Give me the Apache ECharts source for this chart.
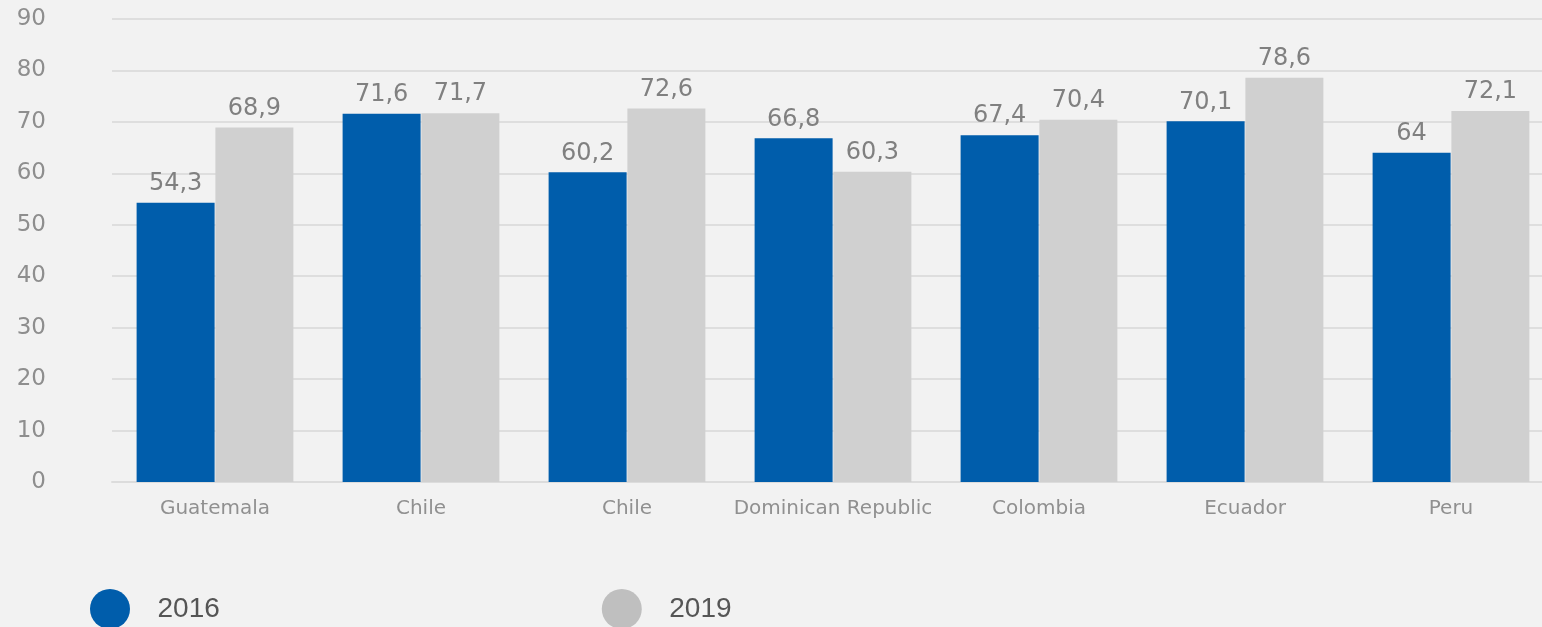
<!DOCTYPE html>
<html>
<head>
<meta charset="utf-8">
<script src="https://cdn.jsdelivr.net/npm/echarts@6/dist/echarts.min.js"></script>
<style>
html,body{margin:0;padding:0;background:#f2f2f2;}
#c{width:1542px;height:627px;}
</style>
</head>
<body>
<div id="c"></div>
<script>
const categories = ['Guatemala', 'Chile', 'Chile', 'Dominican Republic', 'Colombia', 'Ecuador', 'Peru'];
const series2016 = [54.3, 71.6, 60.2, 66.8, 67.4, 70.1, 64];
const series2019 = [68.9, 71.7, 72.6, 60.3, 70.4, 78.6, 72.1];
const seriesNames = ['2016', '2019'];

const chart = echarts.init(document.getElementById('c'));
const fmt = p => String(p.value).replace('.', ',');
const FONT = '"DejaVu Sans", Verdana, sans-serif';
const labelStyle = {
  show: true, position: 'top', distance: 7, formatter: fmt,
  color: '#808080', fontSize: 24, fontFamily: FONT
};
chart.setOption({
  backgroundColor: '#f2f2f2',
  animation: false,
  grid: {left: 112, width: 1442, top: 19, height: 463, outerBoundsMode: 'none', containLabel: false},
  legend: {
    left: 85, top: 584, icon: 'circle', itemWidth: 43, itemHeight: 40, itemGap: 382,
    data: [
      {name: '2016', itemStyle: {color: '#005dab'}},
      {name: '2019', itemStyle: {color: '#bfbfbf'}}
    ],
    textStyle: {color: '#555', fontSize: 28, fontFamily: '"Liberation Sans Narrow", Arial, sans-serif', padding: [0, 0, 0, 21]}
  },
  xAxis: {
    type: 'category', data: categories,
    axisTick: {show: false},
    axisLine: {lineStyle: {color: '#dcdcdc', width: 2}},
    axisLabel: {interval: 0, color: '#909090', fontSize: 20, margin: 17, fontFamily: FONT}
  },
  yAxis: {
    type: 'value', min: 0, max: 90, interval: 10,
    axisLine: {show: false}, axisTick: {show: false},
    splitLine: {lineStyle: {color: '#dedede', width: 2}},
    axisLabel: {color: '#8e8e8e', fontSize: 23, margin: 66, fontFamily: FONT}
  },
  series: [
    {name: seriesNames[0], type: 'bar', data: series2016, barWidth: 78, barGap: '1%',
     itemStyle: {color: '#005dab'}, label: labelStyle},
    {name: seriesNames[1], type: 'bar', data: series2019, barWidth: 78,
     itemStyle: {color: '#d0d0d0'}, label: labelStyle}
  ]
});
</script>
</body>
</html>
